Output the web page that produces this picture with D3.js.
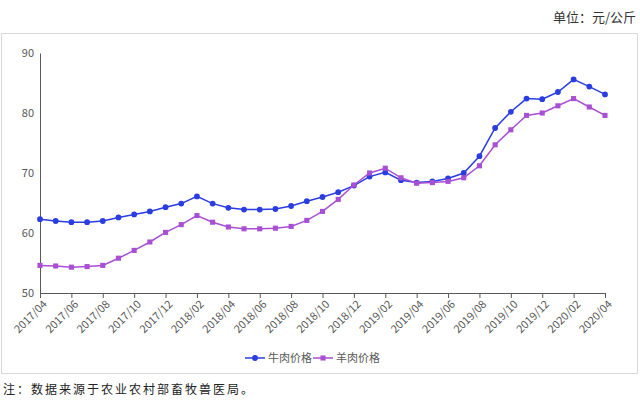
<!DOCTYPE html><html><head><meta charset="utf-8"><script src="https://d3js.org/d3.v7.min.js"></script>
<style>body{margin:0;background:#fff}text{font-family:"Noto Sans CJK SC","Noto Sans",sans-serif}</style></head><body><svg width="640" height="404"></svg><script>
const months=[];for(let y=2017,m=4;!(y===2020&&m>4);){months.push(y+"/"+String(m).padStart(2,"0"));m++;if(m>12){m=1;y++;}}
const beef=[62.3,62.0,61.8,61.8,62.0,62.6,63.1,63.6,64.3,64.9,66.1,64.9,64.2,63.9,63.9,64.0,64.5,65.3,66.0,66.8,67.9,69.4,70.1,68.8,68.4,68.6,69.1,70.0,72.8,77.5,80.2,82.4,82.3,83.5,85.6,84.4,83.1];
const mutton=[54.6,54.5,54.3,54.4,54.6,55.8,57.1,58.5,60.1,61.4,62.9,61.8,61.0,60.7,60.7,60.8,61.1,62.1,63.6,65.6,68.0,70.0,70.8,69.2,68.3,68.4,68.6,69.2,71.2,74.7,77.2,79.6,80.0,81.2,82.4,81.0,79.6];
const yTicks=[50,60,70,80,90];
const svg=d3.select("svg");
svg.append("rect").attr("x",1.5).attr("y",33.5).attr("width",636).attr("height",340).attr("fill","none").attr("stroke","#d9d9d9");
const x=d3.scalePoint().domain(months).range([40,605]);
const y=d3.scaleLinear().domain([50,90]).range([293,53]);
const ax=svg.append("g").attr("transform","translate(0,293)").call(d3.axisBottom(x).tickValues(months.filter((d,i)=>i%2===0)).tickSize(5).tickSizeOuter(0));
ax.select(".domain").attr("stroke","#595959");ax.selectAll("line").attr("stroke","#595959");
ax.selectAll("text").attr("fill","#595959").style("font-size","11px").attr("text-anchor","end").attr("dx","-0.3em").attr("dy","0.5em").attr("transform","rotate(-45)");
const ay=svg.append("g").attr("transform","translate(40,0)").call(d3.axisLeft(y).tickValues(yTicks).tickSize(0).tickPadding(6));
ay.select(".domain").attr("stroke","#595959");ay.selectAll("text").attr("fill","#595959").style("font-size","11px");
const ser=[{d:beef,c:"#2a3de0",s:"circle",n:"牛肉价格"},{d:mutton,c:"#a94fd4",s:"square",n:"羊肉价格"}];
ser.forEach(o=>{
 svg.append("path").datum(o.d).attr("fill","none").attr("stroke",o.c).attr("stroke-width",1.5).attr("d",d3.line().x((d,i)=>x(months[i])).y(d=>y(d)));
 svg.append("g").selectAll("path").data(o.d).join("path").attr("fill",o.c).attr("d",d3.symbol().type(o.s==="circle"?d3.symbolCircle:d3.symbolSquare).size(26)).attr("transform",(d,i)=>`translate(${x(months[i])},${y(d)})`);
});
const lg=svg.append("g");
ser.forEach((o,i)=>{const lx=245+i*68;
 lg.append("line").attr("x1",lx).attr("x2",lx+20).attr("y1",358).attr("y2",358).attr("stroke",o.c).attr("stroke-width",1.5);
 lg.append("path").attr("fill",o.c).attr("d",d3.symbol().type(o.s==="circle"?d3.symbolCircle:d3.symbolSquare).size(26)).attr("transform",`translate(${lx+10},358)`);
 lg.append("text").attr("x",lx+23).attr("y",362).attr("fill","#595959").style("font-size","11px").text(o.n);});
svg.append("text").attr("x",636).attr("y",22).attr("text-anchor","end").style("font-size","13px").attr("fill","#333").text("单位：元/公斤");
svg.append("text").attr("x",3).attr("y",394).style("font-size","12px").attr("fill","#222").attr("letter-spacing","2px").text("注：数据来源于农业农村部畜牧兽医局。");
</script></body></html>
